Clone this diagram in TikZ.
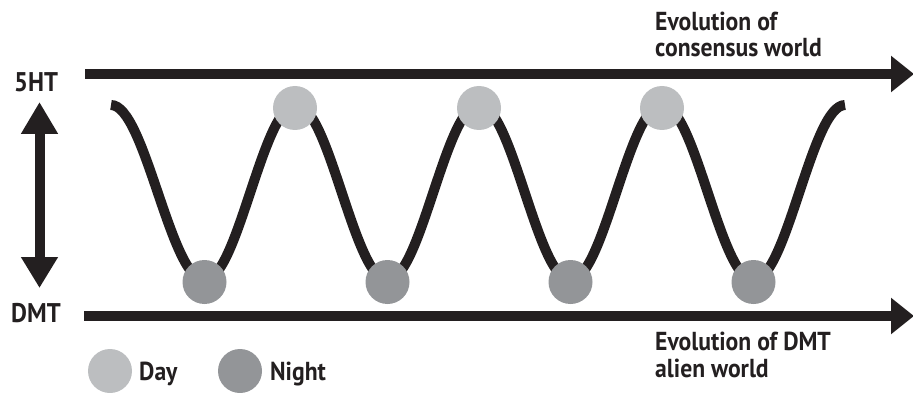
\documentclass[tikz,border=0pt]{standalone}
\usepackage{fontspec}
\setmainfont{PT Sans}[FakeStretch=0.91]
\usetikzlibrary{arrows.meta}
\definecolor{daycol}{HTML}{BCBEC0}
\definecolor{nightcol}{HTML}{939598}
\definecolor{ink}{HTML}{231F20}
\tikzset{
  axis/.style={draw=ink, line width=10.5pt, -{Triangle[length=23pt,width=35pt]}},
  updown/.style={draw=ink, line width=10pt, {Triangle[length=31pt,width=35pt]}-{Triangle[length=32pt,width=35pt]}},
  wave/.style={draw=ink, line width=10pt},
  daydot/.style={circle, fill=daycol, minimum size=44pt, inner sep=0pt},
  nightdot/.style={circle, fill=nightcol, minimum size=44pt, inner sep=0pt},
  lbl/.style={font=\bfseries\fontsize{27}{26.5}\selectfont, text=ink, inner sep=0pt, anchor=base west},
  side/.style={font=\bfseries\fontsize{26}{26.5}\selectfont, text=ink, inner sep=0pt, anchor=base west, align=left},
  key/.style={font=\bfseries\fontsize{26}{27}\selectfont, text=ink, inner sep=0pt, anchor=base west},
}
\begin{document}
\begin{tikzpicture}[x=1pt,y=-1pt]
\useasboundingbox (0,0) rectangle (913,393);
% axes
\coordinate (t0) at (85,74);
\coordinate (t1) at (914,74);
\coordinate (b0) at (84,316);
\coordinate (b1) at (914,316);
\draw[axis] (t0) -- (t1);
\draw[axis] (b0) -- (b1);
\coordinate (v0) at (39.5,288);
\coordinate (v1) at (39.5,102);
\draw[updown] (v0) -- (v1);
% labels
\node[lbl] (l5ht) at (14,92) {5HT};
\node[lbl] (ldmt) at (11,322) {DMT};
\node[side] (lcons) at (655,57) {Evolution of\\consensus world};
\node[side] (lalien) at (655,377) {Evolution of DMT\\alien world};
% wave
\draw[wave] (111,105) cos (157.75,192.5) sin (204.5,280) cos (250.25,192.5) sin (296,105)
  cos (341.75,192.5) sin (387.5,280) cos (433.25,192.5) sin (479,105)
  cos (524.75,192.5) sin (570.5,280) cos (616.25,192.5) sin (662,105)
  cos (707.75,192.5) sin (753.5,280) cos (799.25,192.5) sin (845,105);
% dots
\node[daydot] (d1) at (295,108) {};
\node[daydot] (d2) at (479,108) {};
\node[daydot] (d3) at (662,108) {};
\node[nightdot] (n1) at (204.5,282) {};
\node[nightdot] (n2) at (387.5,282) {};
\node[nightdot] (n3) at (570.5,282) {};
\node[nightdot] (n4) at (753.5,282) {};
% legend
\node[daydot] (kday) at (110,371) {};
\node[key] (tday) at (139,380) {Day};
\node[nightdot] (knight) at (240,371) {};
\node[key] (tnight) at (270,380) {Night};
\end{tikzpicture}
\end{document}
